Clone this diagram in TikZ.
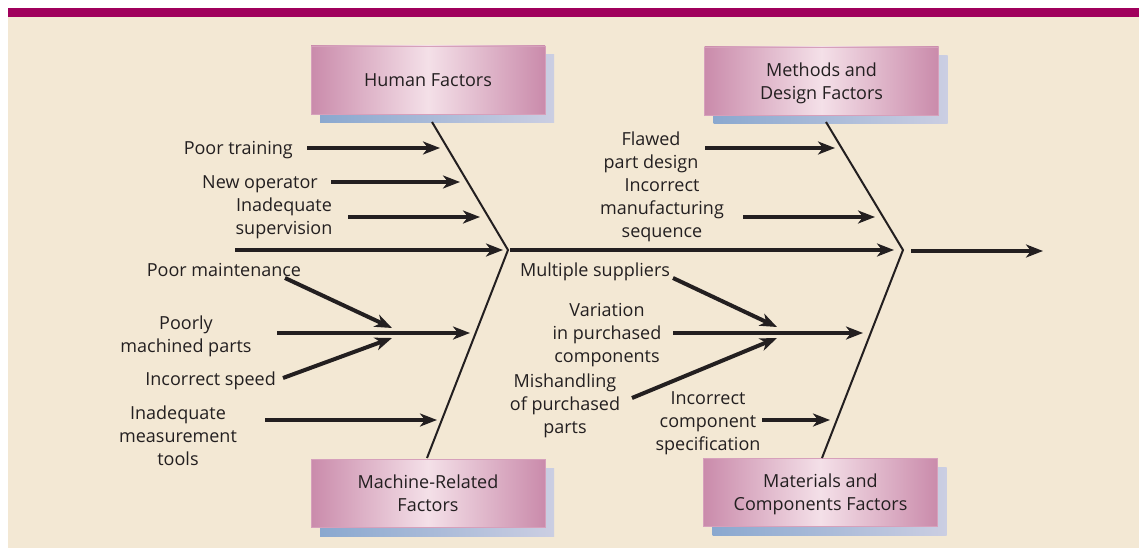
\documentclass[tikz,border=0pt]{standalone}
\usepackage{fontspec}
\setmainfont{Open Sans}
\usetikzlibrary{arrows.meta, shadows}
\definecolor{topbar}{RGB}{160,0,92}
\definecolor{paper}{RGB}{243,232,212}
\definecolor{boxedge}{RGB}{202,139,171}
\definecolor{boxmid}{RGB}{244,224,232}
\definecolor{boxline}{RGB}{214,160,187}
\definecolor{shadl}{RGB}{138,168,207}
\definecolor{shadr}{RGB}{203,206,226}
\definecolor{ink}{RGB}{35,31,32}
\begin{document}
\begin{tikzpicture}[x=1pt, y=-1pt, font=\fontsize{18}{23}\selectfont, text=ink]
\tikzstyle{factor}=[rectangle, minimum width=234pt, minimum height=68pt, align=center, text depth=0pt, left color=boxedge, right color=boxedge, middle color=boxmid, draw=boxline, line width=0.6pt, general shadow={shadow xshift=9pt, shadow yshift=-9pt, left color=shadl, right color=shadr, draw=none}]
\tikzstyle{cause}=[align=center, inner sep=1pt, yshift=-2.5pt]
\tikzstyle{connect}=[draw=ink, -{Stealth[length=17pt, width=13pt, inset=5pt]}, line width=4pt]
\tikzstyle{bone}=[draw=ink, line width=2pt, line join=miter]
\useasboundingbox (0,0) rectangle (1139,548);
\fill[white] (0,0) rectangle (1139,548);
\fill[paper] (8,17) rectangle (1139,548);
\fill[topbar] (8,8) rectangle (1139,17.5);
% factor boxes
\node[factor] (hum) at (428,80) {Human Factors};
\node[factor] (meth) at (821.5,81) {Methods and\\Design Factors};
\node[factor] (mach) at (428,493) {Machine-Related\\Factors};
\node[factor] (mater) at (820.5,492) {Materials and\\Components Factors};
% bones and spine
\coordinate (hbt) at (432,122);
\coordinate (hv) at (508,250);
\coordinate (mbb) at (427,458);
\coordinate (dbt) at (826,122);
\coordinate (mv) at (903,250);
\coordinate (cbb) at (822,458);
\path[bone] (hbt) -- (hv) -- (mbb);
\path[bone] (dbt) -- (mv) -- (cbb);
\coordinate (spine0) at (235,250);
\coordinate (spine1) at (503,250);
\coordinate (spine2) at (510,250);
\coordinate (spine3) at (894,250);
\coordinate (effect0) at (911,251);
\coordinate (effect1) at (1043,251);
% causes
\node[cause, anchor=east] (ptrain) at (294,148) {Poor training};
\node[cause, anchor=east] (newop) at (319,182) {New operator};
\node[cause] (inadsup) at (284,216) {Inadequate\\supervision};
\node[cause] (pmaint) at (224,267) {Poor maintenance};
\node[cause] (poorly) at (186,334) {Poorly\\machined parts};
\node[cause, anchor=east] (ispeed) at (277,378) {Incorrect speed};
\node[cause] (inmeas) at (178,433) {Inadequate\\measurement\\tools};
\node[cause] (flawed) at (651,150) {Flawed\\part design};
\node[cause] (incman) at (662,208) {Incorrect\\manufacturing\\sequence};
\node[cause] (multsup) at (595,269) {Multiple suppliers};
\node[cause] (variat) at (607,333) {Variation\\in purchased\\components};
\node[cause] (mishand) at (565,403) {Mishandling\\of purchased\\parts};
\node[cause] (inccomp) at (708,421) {Incorrect\\component\\specification};
% arrow ends
\coordinate (ptrain0) at (307,148);  \coordinate (ptrain1) at (440,148);
\coordinate (newop0) at (331,182);   \coordinate (newop1) at (460,182);
\coordinate (inadsup0) at (348,217); \coordinate (inadsup1) at (480,217);
\coordinate (pmaint0) at (285,278);  \coordinate (pmaint1) at (392,328);
\coordinate (poorly0) at (277,333);  \coordinate (poorly1) at (470,333);
\coordinate (ispeed0) at (283,378);  \coordinate (ispeed1) at (392,338);
\coordinate (inmeas0) at (265,420);  \coordinate (inmeas1) at (437,420);
\coordinate (flawed0) at (705,148);  \coordinate (flawed1) at (835,148);
\coordinate (incman0) at (743,217);  \coordinate (incman1) at (875,217);
\coordinate (multsup0) at (673,278); \coordinate (multsup1) at (777,327);
\coordinate (variat0) at (673,333);  \coordinate (variat1) at (863,333);
\coordinate (mishand0) at (632,398); \coordinate (mishand1) at (777,338);
\coordinate (inccomp0) at (762,420); \coordinate (inccomp1) at (830,420);
\path (spine0) edge [connect] (spine1)
      (spine2) edge [connect] (spine3)
      (effect0) edge [connect] (effect1)
      (ptrain0) edge [connect] (ptrain1)
      (newop0) edge [connect] (newop1)
      (inadsup0) edge [connect] (inadsup1)
      (pmaint0) edge [connect] (pmaint1)
      (poorly0) edge [connect] (poorly1)
      (ispeed0) edge [connect] (ispeed1)
      (inmeas0) edge [connect] (inmeas1)
      (flawed0) edge [connect] (flawed1)
      (incman0) edge [connect] (incman1)
      (multsup0) edge [connect] (multsup1)
      (variat0) edge [connect] (variat1)
      (mishand0) edge [connect] (mishand1)
      (inccomp0) edge [connect] (inccomp1);
\end{tikzpicture}
\end{document}
